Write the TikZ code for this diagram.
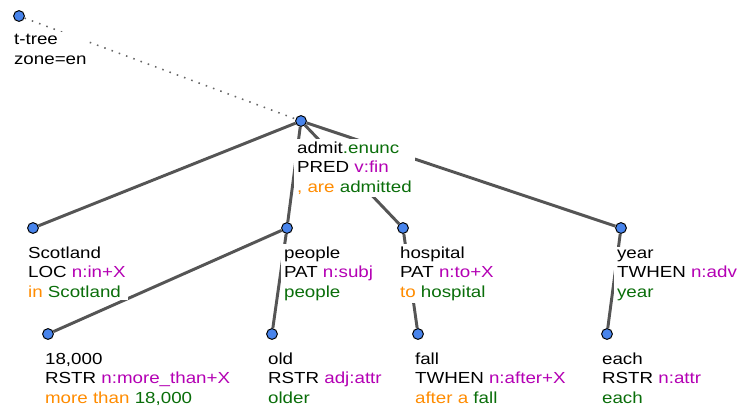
\documentclass[tikz,border=0pt]{standalone}
\usepackage{fontspec}
\setmainfont{Liberation Sans}[FakeStretch=1.17]
\usetikzlibrary{positioning,backgrounds}
\definecolor{nodeblue}{RGB}{72,132,236}
\definecolor{edgegray}{RGB}{85,85,85}
\definecolor{funcmag}{RGB}{180,0,180}
\definecolor{auxorange}{RGB}{255,140,0}
\definecolor{lemgreen}{RGB}{10,110,10}
\newcommand\funcol[1]{\textcolor{funcmag}{#1}}
\newcommand\auxcol[1]{\textcolor{auxorange}{#1}}
\newcommand\lemcol[1]{\textcolor{lemgreen}{#1}}

\begin{document}
\begin{tikzpicture}[x=0.025cm,y=-0.025cm,
dot/.style={circle,draw=black,fill=nodeblue,line width=0.7pt,inner sep=0pt,minimum size=0.27cm},
branch/.style={draw=edgegray,line width=2.1pt},
lbl/.style={anchor=base west,align=left,fill=white,inner sep=2pt,
    font=\fontsize{11.4}{13.6}\selectfont}]
\useasboundingbox (0,0) rectangle (738,410);
\node (root) [dot] at (19,16) {};
\node (admit) [dot] at (301,121) {};
\node (scot) [dot] at (33,228) {};
\node (people) [dot] at (287,228) {};
\node (hosp) [dot] at (403,228) {};
\node (year) [dot] at (621,228) {};
\node (num) [dot] at (48,334) {};
\node (old) [dot] at (272,334) {};
\node (fall) [dot] at (418,334) {};
\node (each) [dot] at (607,334) {};
\begin{pgfonlayer}{background}
\draw [edgegray!90,line width=1.1pt,dash pattern=on 1.1pt off 4.4pt] (root) -- (admit);
\draw [branch] (admit) -- (scot);
\draw [branch] (admit) -- (people);
\draw [branch] (admit) -- (hosp);
\draw [branch] (admit) -- (year);
\draw [branch] (people) -- (num);
\draw [branch] (people) -- (old);
\draw [branch] (hosp) -- (fall);
\draw [branch] (year) -- (each);
\end{pgfonlayer}
\node (root-l) [lbl] at ([shift={(-8,48)}]root.center) {t-tree\\zone=en};
\node (admit-l) [lbl] at ([shift={(-7,71)}]admit.center)
    {admit\lemcol{.enunc}\\PRED \funcol{v:fin}\\\auxcol{, are} \lemcol{admitted}};
\node (scot-l) [lbl] at ([shift={(-8,69)}]scot.center)
    {Scotland\\LOC \funcol{n:in+X}\\\auxcol{in} \lemcol{Scotland}};
\node (people-l) [lbl] at ([shift={(-6,69)}]people.center)
    {people\\PAT \funcol{n:subj}\\\lemcol{people}};
\node (hosp-l) [lbl] at ([shift={(-6,69)}]hosp.center)
    {hospital\\PAT \funcol{n:to+X}\\\auxcol{to} \lemcol{hospital}};
\node (year-l) [lbl] at ([shift={(-7,69)}]year.center)
    {year\\TWHEN \funcol{n:adv}\\\lemcol{year}};
\node (num-l) [lbl] at ([shift={(-6,69)}]num.center)
    {18,000\\RSTR \funcol{n:more\_than+X}\\\auxcol{more than} \lemcol{18,000}};
\node (old-l) [lbl] at ([shift={(-7,69)}]old.center)
    {old\\RSTR \funcol{adj:attr}\\\lemcol{older}};
\node (fall-l) [lbl] at ([shift={(-6,69)}]fall.center)
    {fall\\TWHEN \funcol{n:after+X}\\\auxcol{after a} \lemcol{fall}};
\node (each-l) [lbl] at ([shift={(-8,69)}]each.center)
    {each\\RSTR \funcol{n:attr}\\\lemcol{each}};
\end{tikzpicture}
\end{document}
